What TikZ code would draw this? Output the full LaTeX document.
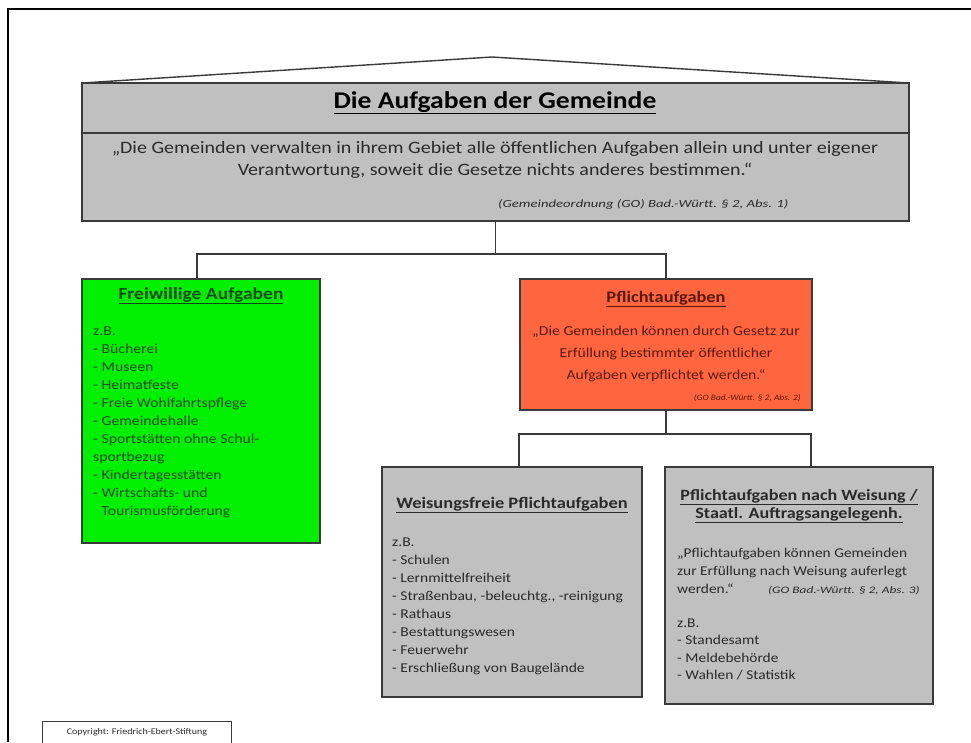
\documentclass[tikz,border=0pt]{standalone}
\usepackage{fontspec}
\setmainfont{Carlito}[FakeStretch=1.15]
\newfontfamily\citefont{Carlito}[FakeStretch=1.35]
\definecolor{boxgray}{HTML}{C0C0C0}
\definecolor{boxgreen}{HTML}{00F000}
\definecolor{boxred}{HTML}{FF6640}
\definecolor{edge}{HTML}{3A3A3A}
\definecolor{txtgreen}{HTML}{0A4A0A}
\definecolor{txtred}{HTML}{5A1A0A}
\definecolor{txtgray}{HTML}{2A2A2A}
\tikzset{
  panel/.style={draw=edge, line width=1.4pt, anchor=north west, inner sep=0pt, outer sep=0pt},
  conn/.style={draw=edge, line width=1.2pt},
  txt/.style={inner sep=0pt, align=left},
  ctxt/.style={inner sep=0pt, align=center},
  fs/.style 2 args={font=\fontsize{#1}{#2}\selectfont},
  bfs/.style 2 args={font=\fontsize{#1}{#2}\selectfont\bfseries},
  ifs/.style 2 args={font=\fontsize{#1}{#2}\selectfont\itshape},
  cfs/.style 2 args={font=\citefont\fontsize{#1}{#2}\selectfont\itshape}
}
\begin{document}
\begin{tikzpicture}[x=1pt,y=-1pt]
\useasboundingbox (0,0) rectangle (971,742);
% outer frame
\draw[line width=2pt] (8,742) -- (8,9) -- (971,9);

% roof and top box
\draw[edge, line width=1.4pt, fill=white] (82,83) -- (492,57) -- (909,83);
\node[panel, fill=boxgray, minimum width=827pt, minimum height=138pt] (top) at (82,83) {};
\draw[edge, line width=1.2pt] (top.west |- 0,133) -- (top.east |- 0,133);
\node[ctxt, bfs={24}{28}, anchor=base, text=black] (title) at (495,108) {\underline{Die Aufgaben der Gemeinde}};
\node[ctxt, fs={17.4}{22}, anchor=base, text=txtgray] (quote) at (495,175) {„Die Gemeinden verwalten in ihrem Gebiet alle öffentlichen Aufgaben allein und unter eigener\\Verantwortung, soweit die Gesetze nichts anderes bestimmen.“};
\node[txt, cfs={10.9}{14}, anchor=base west, text=txtgray] (cite) at (498,207) {(Gemeindeordnung (GO) Bad.-Württ. § 2, Abs. 1)};

% green box
\node[panel, fill=boxgreen, minimum width=238pt, minimum height=264pt] (green) at (82,279) {};
\node[ctxt, bfs={17}{18}, anchor=base, text=txtgreen] (gtitle) at (201,299) {\underline{Freiwillige Aufgaben}};
\node[txt, fs={13.7}{18}, anchor=base west, text=txtgreen] (glist) at (93,515) {z.B.\\- Bücherei\\- Museen\\- Heimatfeste\\- Freie Wohlfahrtspflege\\- Gemeindehalle\\- Sportstätten ohne Schul-\\sportbezug\\- Kindertagesstätten\\- Wirtschafts- und\\\phantom{- }Tourismusförderung};

% red box
\node[panel, fill=boxred, minimum width=292pt, minimum height=131pt] (red) at (520,279) {};
\node[ctxt, bfs={16}{18}, anchor=base, text=txtred] (rtitle) at (666,302) {\underline{Pflichtaufgaben}};
\node[ctxt, fs={13.7}{22}, anchor=base, text=txtred] (rquote) at (666,379) {„Die Gemeinden können durch Gesetz zur\\Erfüllung bestimmter öffentlicher\\Aufgaben verpflichtet werden.“};
\node[txt, ifs={8.2}{12}, anchor=base east, text=txtred] (rcite) at (801,400) {(GO Bad.-Württ. § 2, Abs. 2)};

% Weisungsfreie box
\node[panel, fill=boxgray, minimum width=260pt, minimum height=230pt] (wf) at (382,467) {};
\node[ctxt, bfs={16}{19}, anchor=base, text=txtgray] (wftitle) at (512,508) {\underline{Weisungsfreie Pflichtaufgaben}};
\node[txt, fs={13.5}{18}, anchor=base west, text=txtgray] (wflist) at (392,672) {z.B.\\- Schulen\\- Lernmittelfreiheit\\- Straßenbau, -beleuchtg., -reinigung\\- Rathaus\\- Bestattungswesen\\- Feuerwehr\\- Erschließung von Baugelände};

% Pflichtaufgaben nach Weisung box
\node[panel, fill=boxgray, minimum width=268pt, minimum height=237pt] (pn) at (665,467) {};
\node[ctxt, bfs={15.7}{18}, anchor=base, text=txtgray] (pntitle) at (799,518) {\underline{Pflichtaufgaben nach Weisung /}\\\underline{Staatl. Auftragsangelegenh.}};
\node[txt, fs={13.4}{18}, anchor=base west, text=txtgray] (pnquote) at (677,593) {„Pflichtaufgaben können Gemeinden\\zur Erfüllung nach Weisung auferlegt\\werden.“};
\node[txt, cfs={9.9}{12}, anchor=base east, text=txtgray] (pncite) at (920,593) {(GO Bad.-Württ. § 2, Abs. 3)};
\node[txt, fs={13.4}{17.5}, anchor=base west, text=txtgray] (pnlist) at (677,679.5) {z.B.\\- Standesamt\\- Meldebehörde\\- Wahlen / Statistik};

% copyright box
\node[panel, fill=white, draw=edge, line width=1pt, minimum width=189pt, minimum height=30pt] (copy) at (42,721) {};
\node[ctxt, fs={8.7}{10}, text=txtgray] (copytxt) at (137,732) {Copyright: Friedrich-Ebert-Stiftung};

% connectors
\coordinate (bus1) at (top.south |- 0,254);
\coordinate (bus2) at (red.south |- 0,434);
\draw[conn] (top.south) -- (bus1);
\draw[conn] (bus1) -| ([xshift=-4pt]green.north);
\draw[conn] (bus1) -| (red.north);
\draw[conn] (red.south) -- (bus2);
\draw[conn] (bus2) -| ([xshift=7pt]wf.north);
\draw[conn] (bus2) -| ([xshift=12pt]pn.north);
\end{tikzpicture}
\end{document}
